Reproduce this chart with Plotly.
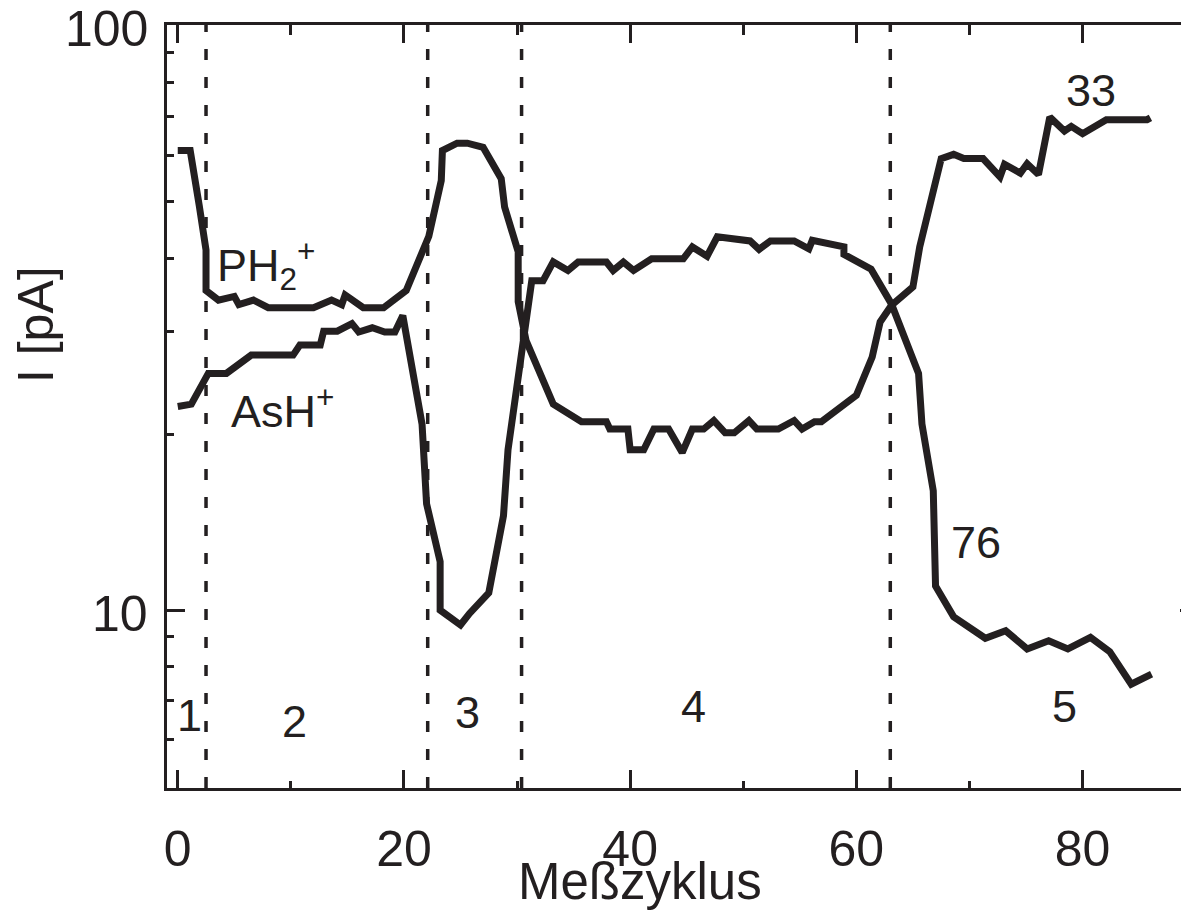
import numpy as np
import plotly.graph_objects as go

# ---------------- data ----------------
x_ph2 = [0, 1.1, 1.9, 2.5, 2.5, 3.6, 5.0, 5.4, 6.7, 8.0, 12.0, 13.6, 14.5, 14.8, 16.4, 18.2,
         20.2, 22.2, 23.3, 23.4, 24.7, 25.6, 27.0, 28.6, 28.9, 30.1, 30.1, 30.8, 33.2, 35.7,
         37.9, 38.2, 39.8, 40.0, 41.2, 42.1, 43.4, 44.6, 45.5, 46.5, 47.4, 48.4, 49.2, 50.5,
         51.2, 53.1, 54.5, 55.2, 56.3, 56.9, 60.0, 61.4, 62.1, 63.1, 65.0, 65.6, 67.5, 68.6,
         69.5, 71.2, 72.7, 73.1, 74.5, 75.1, 76.1, 77.1, 78.4, 79.0, 80.0, 82.1, 85.7, 86.0]
i_ph2 = [61.1, 61.1, 49.2, 41.3, 35.2, 33.9, 34.4, 33.3, 33.9, 32.9, 32.9, 33.9, 33.3, 34.6, 32.9, 32.9,
         35.2, 43.6, 54.3, 61.1, 62.9, 62.9, 61.9, 54.7, 48.9, 41.0, 33.7, 28.9, 22.5, 21.0,
         21.0, 20.4, 20.4, 18.8, 18.8, 20.4, 20.4, 18.6, 20.4, 20.4, 21.1, 20.1, 20.1, 21.1,
         20.4, 20.4, 21.1, 20.4, 21.0, 21.0, 23.3, 27.1, 31.1, 33.2, 35.7, 41.8, 59.2, 60.2,
         59.2, 59.2, 55.1, 57.9, 55.9, 58.0, 55.6, 69.7, 66.0, 67.2, 65.3, 69.0, 69.0, 69.5]

x_ash = [0, 1.2, 2.7, 4.3, 6.5, 10.2, 10.8, 12.6, 12.9, 14.1, 15.4, 16.0, 17.2, 18.3, 19.2, 19.9,
         21.6, 22.0, 23.2, 23.2, 25.0, 25.8, 27.5, 28.8, 29.2, 31.3, 32.3, 33.2, 34.5, 35.4,
         37.9, 38.5, 39.4, 40.3, 41.9, 44.7, 45.5, 46.8, 47.7, 50.6, 51.4, 52.4, 54.5, 55.8,
         56.1, 58.9, 58.9, 61.3, 63.1, 65.5, 65.8, 66.8, 67.0, 68.6, 71.4, 73.2, 75.1, 77.0,
         78.7, 80.7, 82.4, 84.3, 86.1]
i_ash = [22.3, 22.5, 25.4, 25.4, 27.3, 27.3, 28.4, 28.4, 30.0, 30.0, 30.9, 29.9, 30.4, 29.9, 29.9, 31.9,
         20.8, 15.2, 12.1, 10.0, 9.43, 9.87, 10.7, 14.5, 18.8, 36.6, 36.6, 39.4, 38.1, 39.4,
         39.4, 38.1, 39.4, 38.1, 39.9, 39.9, 41.8, 40.3, 43.5, 42.8, 41.4, 42.8, 42.8, 41.5,
         42.9, 41.8, 40.6, 38.3, 33.4, 25.4, 20.8, 16.0, 11.0, 9.74, 8.95, 9.22, 8.58, 8.86,
         8.58, 8.98, 8.49, 7.47, 7.77]

phase_bounds = [2.5, 22.1, 30.4, 63.0]
phase_labels = ["1", "2", "3", "4", "5"]
phase_label_x = [1.0, 10.3, 25.6, 45.6, 78.4]
phase_label_y = [6.59, 6.46, 6.69, 6.85, 6.85]

curve_labels = ["PH<sub>2</sub><sup>+</sup>", "AsH<sup>+</sup>", "33", "76"]
curve_label_x = [3.25, 4.5, 80.76, 70.6]
curve_label_y = [39.0, 22.2, 77.3, 13.04]
curve_label_anchor = ["left", "left", "center", "center"]

x_major = [0, 20, 40, 60, 80]
x_minor = [10, 30, 50, 70]
y_major = [10, 100]
y_major_text = ["10", "100"]
y_minor = [6, 7, 8, 9, 20, 30, 40, 50, 60, 70, 80, 90]

INK = "#231f20"
FONT = "Liberation Sans, Arial, sans-serif"

fig = go.Figure()
for xs, ys in [(x_ph2, i_ph2), (x_ash, i_ash)]:
    fig.add_trace(go.Scatter(x=xs, y=ys, mode="lines",
                             line=dict(color=INK, width=7), showlegend=False,
                             hoverinfo="skip"))
# empty trace so that the mirrored top / right axes are drawn
fig.add_trace(go.Scatter(x=[None], y=[None], xaxis="x2", yaxis="y2", mode="lines",
                         showlegend=False, hoverinfo="skip"))

for b in phase_bounds:
    fig.add_shape(type="line", xref="x", yref="paper", x0=b, x1=b, y0=0, y1=1,
                  line=dict(color=INK, width=3.5, dash="11px,17px"), layer="below")

for t, xv, yv in zip(phase_labels, phase_label_x, phase_label_y):
    fig.add_annotation(x=xv, y=np.log10(yv), text=t, showarrow=False,
                       xanchor="center", yanchor="middle",
                       font=dict(size=45, color=INK, family=FONT))

for t, xv, yv, a in zip(curve_labels, curve_label_x, curve_label_y, curve_label_anchor):
    fig.add_annotation(x=xv, y=np.log10(yv), text=t, showarrow=False,
                       xanchor=a, yanchor="middle",
                       font=dict(size=45, color=INK, family=FONT))

# y tick labels (sit a few px below their ticks in the reference)
for v, t in zip(y_major, y_major_text):
    fig.add_annotation(xref="paper", x=-0.0166, y=np.log10(v) - 0.006, text=t,
                       showarrow=False, xanchor="right", yanchor="middle",
                       font=dict(size=50, color=INK, family=FONT))

# axis titles
fig.add_annotation(xref="paper", yref="paper", x=0.4628, y=-0.122, text="Meßzyklus",
                   showarrow=False, xanchor="center", yanchor="middle",
                   font=dict(size=51, color=INK, family=FONT))
fig.add_annotation(xref="paper", yref="paper", x=-0.1282, y=0.608, text="I [pA]",
                   textangle=-90, showarrow=False, xanchor="center", yanchor="middle",
                   font=dict(size=50, color=INK, family=FONT))

xr = [-0.95, 89.41]
yr = [0.6957, 2.0008]
common_line = dict(showline=True, linecolor=INK, linewidth=3, showgrid=False,
                   zeroline=False, automargin=False)

# the page body has an 8 px margin, so the figure is 8 px smaller and shifted
fig.update_layout(
    width=1181, height=903,
    margin=dict(l=159, r=0, t=17, b=123, pad=0, autoexpand=False),
    plot_bgcolor="white", paper_bgcolor="white",
    font=dict(family=FONT, color=INK),
    xaxis=dict(range=xr, tickmode="array", tickvals=x_major, ticks="inside",
               ticklen=18, tickwidth=3, tickcolor=INK, ticklabelstandoff=15,
               ticklabeloverflow="allow",
               minor=dict(tickmode="array", tickvals=x_minor, ticks="inside", ticklen=7,
                          tickwidth=3, tickcolor=INK),
               tickfont=dict(size=50, color=INK, family=FONT), **common_line),
    xaxis2=dict(range=xr, overlaying="x", side="top", anchor="y", tickmode="array",
                tickvals=x_major, ticks="inside", ticklen=18, tickwidth=3, tickcolor=INK,
                minor=dict(tickmode="array", tickvals=x_minor, ticks="inside", ticklen=10,
                           tickwidth=3, tickcolor=INK),
                showticklabels=False, **common_line),
    yaxis=dict(type="log", range=yr, tickmode="array", tickvals=y_major,
               ticks="inside", ticklen=18, tickwidth=3, tickcolor=INK,
               showticklabels=False,
               minor=dict(tickmode="array", tickvals=y_minor, ticks="inside", ticklen=7,
                          tickwidth=3, tickcolor=INK),
               **common_line),
    yaxis2=dict(type="log", range=yr, overlaying="y", side="right", anchor="x",
                tickmode="array", tickvals=y_major, ticks="inside", ticklen=9, tickwidth=3,
                tickcolor=INK,
                minor=dict(tickmode="array", tickvals=y_minor, ticks="inside", ticklen=3,
                           tickwidth=3, tickcolor=INK),
                showticklabels=False, showline=False, showgrid=False, zeroline=False,
                automargin=False),
)

fig.write_html("out.html")
